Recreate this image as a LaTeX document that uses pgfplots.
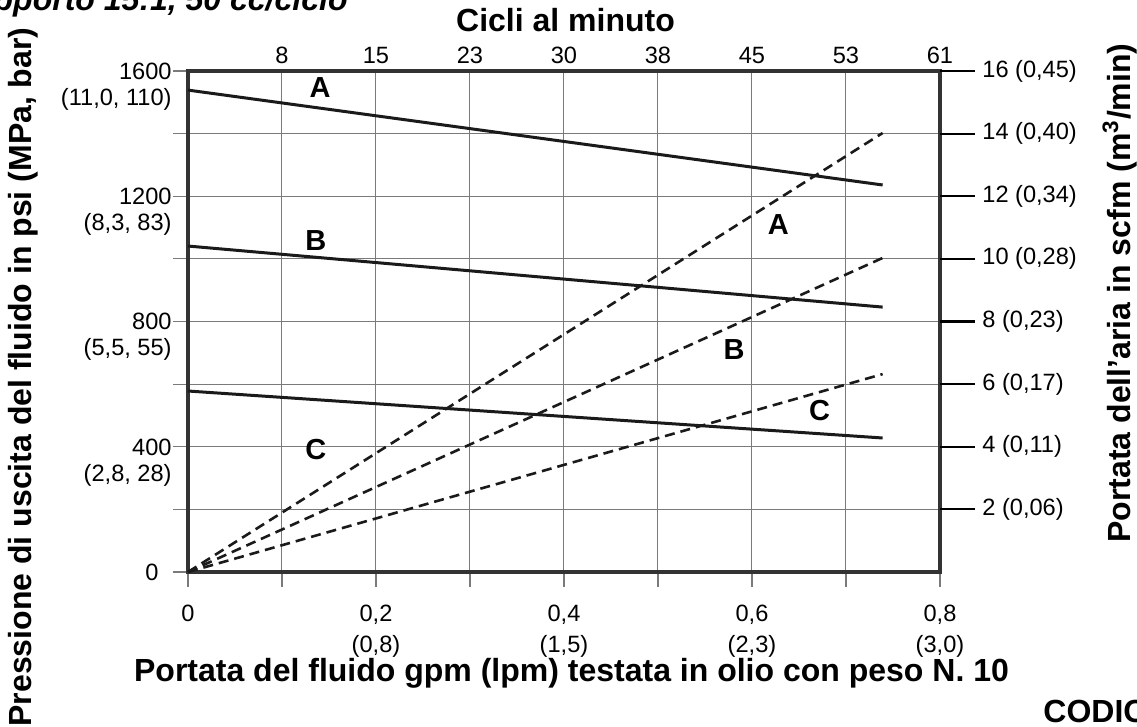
\documentclass[border=0pt]{standalone}
\usepackage{fontspec}
\setmainfont{Liberation Sans}
\usepackage{pgfplots}
\pgfplotsset{compat=1.18}
\definecolor{framegray}{HTML}{333333}
\definecolor{gridgray}{HTML}{7A7A7A}
\definecolor{ink}{HTML}{1A1A1A}

\newcommand{\tickfont}{\fontsize{11.8}{13}\selectfont}
\newcommand{\btickfont}{\fontsize{11.8}{15.5}\selectfont}
\newcommand{\labfont}{\fontsize{16}{18}\selectfont\bfseries}
\newcommand{\curvefont}{\fontsize{14.5}{16}\selectfont\bfseries}

\begin{document}
\begin{tikzpicture}
  % pressure (psi) against fluid flow (gpm)
  \begin{axis}[
    at={(94pt,-286pt)}, anchor=south west,
    scale only axis, width=376pt, height=250.5pt,
    xmin=0, xmax=0.8, ymin=0, ymax=1600,
    xtick={0,0.2,0.4,0.6,0.8},
    xticklabels={0,{0,2\\(0,8)},{0,4\\(1,5)},{0,6\\(2,3)},{0,8\\(3,0)}},
    minor xtick={0.1,0.3,0.5,0.7},
    ytick={0,400,800,1200,1600},
    yticklabels={{0\hphantom{0}},{400\\(2,8, 28)},{800\\(5,5, 55)},{1200\\(8,3, 83)},{1600\\(11,0, 110)}},
    minor ytick={200,600,1000,1400},
    grid=both,
    grid style={gridgray, line width=0.5pt},
    minor grid style={gridgray, line width=0.5pt},
    axis line style={framegray, line width=1.75pt},
    tick align=outside, xtick pos=bottom, ytick pos=left,
    major tick length=7.5pt, minor tick length=7.5pt,
    tick style={gridgray, line width=0.6pt},
    xticklabel style={font=\btickfont, align=center, anchor=north, inner sep=2pt, yshift=-7pt},
    yticklabel style={font=\tickfont, align=right, anchor=north east, inner sep=2pt, yshift=6.2pt, xshift=1.5pt},
    clip=false
  ]
    \addplot[ink, line width=1.5pt] coordinates {(0,1539) (0.739,1236)};
    \addplot[ink, line width=1.5pt] coordinates {(0,1041) (0.739,846)};
    \addplot[ink, line width=1.5pt] coordinates {(0,578) (0.739,428)};
    \node[font=\curvefont] at (axis cs:0.1404,1546) {A};
    \node[font=\curvefont] at (axis cs:0.136,1060) {B};
    \node[font=\curvefont] at (axis cs:0.136,390) {C};
  \end{axis}
  % air consumption (scfm) against cycles per minute
  \begin{axis}[
    at={(94pt,-286pt)}, anchor=south west,
    scale only axis, width=376pt, height=250.5pt,
    xmin=0, xmax=0.8, ymin=0, ymax=16,
    axis x line*=top, axis y line*=right,
    axis line style={draw=none},
    xtick={0.1,0.2,0.3,0.4,0.5,0.6,0.7,0.8},
    xticklabels={8,15,23,30,38,45,53,61},
    xtick style={draw=none},
    ytick={2,4,6,8,10,12,14,16},
    yticklabels={{2 (0,06)},{4 (0,11)},{6 (0,17)},{8 (0,23)},{10 (0,28)},{12 (0,34)},{14 (0,40)},{16 (0,45)}},
    ytick style={black, line width=1.1pt},
    tick align=outside,
    major tick length=17.5pt,
    xticklabel style={font=\tickfont, yshift=-17.4pt},
    yticklabel style={font=\tickfont, anchor=west, inner sep=2pt, xshift=1.5pt},
    clip=false
  ]
    \addplot[ink, line width=1.3pt, dash pattern=on 5pt off 3pt] coordinates {(0,0) (0.739,14.02)};
    \addplot[ink, line width=1.3pt, dash pattern=on 5pt off 3pt] coordinates {(0,0) (0.739,10.03)};
    \addplot[ink, line width=1.3pt, dash pattern=on 5pt off 3pt] coordinates {(0,0) (0.739,6.32)};
    \node[font=\curvefont] at (axis cs:0.628,11.11) {A};
    \node[font=\curvefont] at (axis cs:0.581,7.12) {B};
    \node[font=\curvefont] at (axis cs:0.672,5.17) {C};
  \end{axis}
  \node[font=\labfont, anchor=base] at (282.75pt,-16pt) {Cicli al minuto};
  \node[font=\labfont, anchor=base] at (285.75pt,-341pt) {Portata del fluido gpm (lpm) testata in olio con peso N. 10};
  \node[font=\labfont, rotate=90] at (11.5pt,-188.5pt) {Pressione di uscita del fluido in psi (MPa, bar)};
  \node[font=\labfont, rotate=90] at (560pt,-146.5pt) {Portata dell'aria in scfm (m\textsuperscript{3}/min)};
  \node[font=\labfont\itshape, anchor=base east, inner sep=0pt] at (174pt,-5.5pt) {Rapporto 15:1, 50 cc/ciclo};
  \node[font=\labfont, anchor=base west, inner sep=0pt] at (521.5pt,-361pt) {CODICE};
  \pgfresetboundingbox
  \useasboundingbox (0,0) rectangle (568.5pt,-363.5pt);
\end{tikzpicture}
\end{document}
